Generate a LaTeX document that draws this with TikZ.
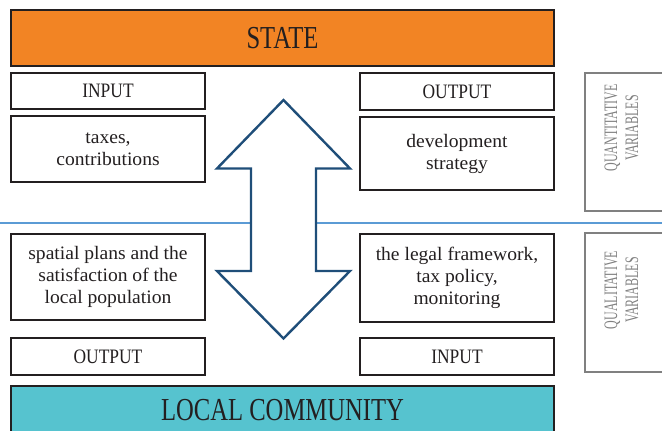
\documentclass[tikz,border=0pt]{standalone}
\usepackage{fontspec}
\setmainfont{Liberation Serif}
\newfontfamily\titlefont[FakeStretch=0.77]{Liberation Serif}
\newfontfamily\capfont[FakeStretch=0.85]{Liberation Serif}
\newfontfamily\bodyfont[FakeStretch=1.03]{Liberation Serif}
\newfontfamily\varfont[FakeStretch=0.63]{Liberation Serif}
\definecolor{stateorange}{HTML}{F28424}
\definecolor{localcyan}{HTML}{56C3CF}
\definecolor{sepblue}{HTML}{5B9BD5}
\definecolor{arrowblue}{HTML}{1F4E79}
\definecolor{textdark}{HTML}{231F20}
\definecolor{vargrey}{HTML}{808080}
\tikzset{
  box/.style={draw=textdark, line width=1.3pt, fill=white, minimum width=194pt, inner sep=0pt, text=textdark},
  capbox/.style={box, minimum height=36pt, font=\capfont\fontsize{20.5}{22}\selectfont},
  bodybox/.style={box, align=center, font=\bodyfont\fontsize{19}{22}\selectfont},
  bar/.style={draw=textdark, line width=2.4pt, minimum width=543pt, inner sep=0pt, text=textdark, font=\titlefont\fontsize{32}{36}\selectfont},
  varbox/.style={draw=vargrey, line width=1.4pt},
  vartext/.style={text=vargrey, rotate=90, align=center, font=\varfont\fontsize{19}{21}\selectfont},
  sep/.style={draw=sepblue, line width=2.4pt},
  bigarrow/.style={draw=arrowblue, line width=2.4pt, fill=white, line join=miter}
}
\begin{document}
\begin{tikzpicture}[x=1pt, y=-1pt]
\useasboundingbox (0,0) rectangle (662,431);
\clip (0,0) rectangle (662,431);
% separator line
\coordinate (sepL) at (0,223);
\coordinate (sepR) at (662,223);
\draw[sep] (sepL) -- (sepR);
% double arrow
\draw[bigarrow] (283.5,100) -- (350,168.5) -- (316,168.5) -- (316,271) -- (350,271)
  -- (283.5,338.5) -- (217,271) -- (251,271) -- (251,168.5) -- (217,168.5) -- cycle;
% bars
\node[bar, fill=stateorange, minimum height=56pt] (state) at (282.5,38) {STATE};
\node[bar, fill=localcyan, minimum height=60pt] (local) at (282.5,416) {};
\node[text=textdark, font=\titlefont\fontsize{32}{36}\selectfont] (localtext) at (282.5,410) {LOCAL COMMUNITY};
% left column
\node[capbox] (inL) at (108,91) {INPUT};
\node[bodybox, minimum height=66pt] (taxes) at (108,149) {taxes,\\contributions};
\node[bodybox, minimum height=86pt] (spatial) at (108,277) {spatial plans and the\\satisfaction of the\\local population};
\node[capbox, minimum height=37pt] (outL) at (108,356.5) {OUTPUT};
% right column
\node[capbox, minimum height=37pt] (outR) at (457,91.5) {OUTPUT};
\node[bodybox, minimum height=73pt] (dev) at (457,153.5) {development\\strategy};
\node[bodybox, minimum height=88pt] (legal) at (457,278) {the legal framework,\\tax policy,\\monitoring};
\node[capbox, minimum height=37pt] (inR) at (457,356.5) {INPUT};
% variable boxes
\draw[varbox] (680,73) -- (585,73) -- (585,211) -- (680,211);
\node[vartext] (quant) at (621.5,128) {QUANTITATIVE\\VARIABLES};
\draw[varbox] (680,233) -- (585,233) -- (585,372) -- (680,372);
\node[vartext] (qual) at (621.5,290) {QUALITATIVE\\VARIABLES};
\end{tikzpicture}
\end{document}
